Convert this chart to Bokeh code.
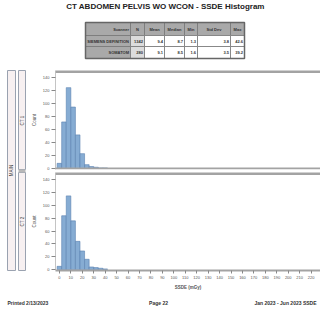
import math
from bokeh.plotting import figure
from bokeh.models import Range1d, Span, FixedTicker
from bokeh.layouts import column, row
from bokeh.embed import file_html
from bokeh.resources import INLINE
from bokeh.core.properties import value

# ---------------- data ----------------
title_text = "CT ABDOMEN PELVIS WO WCON - SSDE Histogram"
stat_headers = ["N", "Mean", "Median", "Min", "Std Dev", "Max"]
scanner_header = "Scanner"
scanners = ["SIEMENS DEFINITION", "SOMATOM"]
stats_row1 = ["1342", "9.4", "8.7", "1.3", "3.8", "42.6"]
stats_row2 = ["280", "9.1", "8.5", "1.6", "3.5", "39.2"]
site_label = "MAIN"
panel_labels = ["CT 1", "CT 2"]
bin_centers = [0, 4, 8, 12, 16, 20, 24, 28, 32, 36, 40]
counts_top = [8, 72, 125, 95, 52, 23, 6, 3, 2, 1, 1]
counts_bottom = [5, 84, 115, 76, 44, 29, 16, 4, 3, 2, 1]
x_ticks = [0, 10, 20, 30, 40, 50, 60, 70, 80, 90, 100, 110, 120, 130, 140,
           150, 160, 170, 180, 190, 200, 210, 220]
y_ticks = [0, 20, 40, 60, 80, 100, 120, 140]
x_label = "SSDE (mGy)"
y_label = "Count"
footer_left = "Printed 2/13/2023"
footer_center = "Page 22"
footer_right = "Jan 2023 - Jun 2023 SSDE"

FONT = "Liberation Sans"
BAR_FILL = "#86acd3"
BAR_LINE = "#5a82b0"
BAND = "#a3a3a3"


def canvas(w, h):
    p = figure(width=w, height=h, x_range=Range1d(0, w), y_range=Range1d(h, 0),
               output_backend="svg", toolbar_location=None, min_border=0,
               x_axis_location=None, y_axis_location=None)
    p.grid.visible = False
    p.outline_line_color = None
    p.background_fill_color = "white"
    p.border_fill_color = "white"
    return p


# ---------------- header: title + table ----------------
hdr = canvas(320, 68)
hdr.text(x=[165], y=[6], text=[title_text], text_font=value(FONT),
         text_font_size="8px", text_font_style="bold", text_align="center",
         text_baseline="middle", text_color="#222222")

col_w = [45, 14, 20, 20, 13, 33, 14]
row_h = [13, 11, 12]
x0, y0 = 85, 22
edges = [x0]
for w in col_w:
    edges.append(edges[-1] + w)
tops = [y0]
for h in row_h:
    tops.append(tops[-1] + h)

table_rows = [[scanner_header] + stat_headers,
              [scanners[0]] + stats_row1,
              [scanners[1]] + stats_row2]
L, R, T, B, F = [], [], [], [], []
tx, ty, tt, ta = [], [], [], []
for r, cells in enumerate(table_rows):
    for c, txt in enumerate(cells):
        L.append(edges[c]); R.append(edges[c + 1])
        T.append(tops[r]); B.append(tops[r + 1])
        F.append("#a9a9a9" if (r == 0 or c == 0) else ("#dcdcdc" if c == 1 else "white"))
        if r == 0 and c > 0:
            tx.append((edges[c] + edges[c + 1]) / 2); ta.append("center")
        else:
            tx.append(edges[c + 1] - 1.5); ta.append("right")
        ty.append((tops[r] + tops[r + 1]) / 2)
        tt.append(txt)
hdr.quad(left=L, right=R, top=T, bottom=B, fill_color=F, line_color="#777777",
         line_width=0.8)
hdr.quad(left=[edges[0]], right=[edges[-1]], top=[tops[0]], bottom=[tops[-1]],
         fill_color=None, line_color="#666666", line_width=1.5)
hdr.text(x=tx, y=ty, text=tt, text_align=ta, text_baseline="middle",
         text_font=value(FONT), text_font_size="4px", text_font_style="bold",
         text_color="#333333")

# ---------------- strips ----------------
strip = canvas(28, 224)
strip.quad(left=[7], right=[15], top=[2], bottom=[202], fill_color="#f7f0f1",
           line_color="#9aa2b0", line_width=1)
strip.quad(left=[18, 18], right=[25, 25], top=[2, 104], bottom=[101, 202],
           fill_color="#f7f0f1", line_color="#9aa2b0", line_width=1)
strip.quad(left=[18], right=[25], top=[101], bottom=[104], fill_color="#b8b8b8",
           line_color=None)
strip.text(x=[11], y=[102], text=[site_label], angle=math.pi / 2,
           text_align="center", text_baseline="middle", text_font=value(FONT),
           text_font_size="4.5px", text_color="#444444")
strip.text(x=[21.5, 21.5], y=[52, 153], text=panel_labels, angle=math.pi / 2,
           text_align="center", text_baseline="middle", text_font=value(FONT),
           text_font_size="4.5px", text_color="#444444")


# ---------------- histograms ----------------
def hist_fig(counts, height, b_top, b_bottom, with_x):
    p = figure(width=292, height=height, x_range=Range1d(-3.4, 228.2),
               y_range=Range1d(-1.5, 151.5), output_backend="svg",
               toolbar_location=None, min_border_left=21, min_border_right=0,
               min_border_top=b_top, min_border_bottom=b_bottom,
               x_axis_location="below" if with_x else None)
    p.grid.visible = False
    p.outline_line_color = None
    p.background_fill_color = "white"
    p.border_fill_color = "white"
    p.vbar(x=bin_centers, top=counts, width=4, bottom=0, fill_color=BAR_FILL,
           line_color=BAR_LINE, line_width=0.6)
    p.add_layout(Span(location=150, dimension="width", line_color=BAND,
                      line_width=3))
    ya = p.yaxis[0]
    ya.ticker = FixedTicker(ticks=y_ticks)
    ya.axis_label = y_label
    ya.axis_label_text_font = FONT
    ya.axis_label_text_font_size = "4.5px"
    ya.axis_label_text_font_style = "normal"
    ya.axis_label_text_color = "#555555"
    ya.axis_label_standoff = 3
    ya.major_label_text_font = FONT
    ya.major_label_text_font_size = "4px"
    ya.major_label_text_color = "#555555"
    ya.major_label_standoff = 2
    ya.major_tick_out = 4
    ya.major_tick_in = 0
    ya.major_tick_line_color = "#888888"
    ya.minor_tick_line_color = None
    ya.axis_line_color = "#c4c4c4"
    if with_x:
        xa = p.xaxis[0]
        xa.ticker = FixedTicker(ticks=x_ticks)
        xa.axis_label = x_label
        xa.axis_label_text_font = FONT
        xa.axis_label_text_font_size = "4.5px"
        xa.axis_label_text_font_style = "bold"
        xa.axis_label_text_color = "#555555"
        xa.axis_label_standoff = 3
        xa.major_label_text_font = FONT
        xa.major_label_text_font_size = "4px"
        xa.major_label_text_color = "#555555"
        xa.major_label_standoff = 2
        xa.major_tick_out = 3
        xa.major_tick_in = 0
        xa.major_tick_line_color = "#888888"
        xa.minor_tick_line_color = None
        xa.axis_line_color = BAND
        xa.axis_line_width = 2
    else:
        p.add_layout(Span(location=0, dimension="width", line_color=BAND,
                          line_width=2))
    return p


top_h = hist_fig(counts_top, 102, 2, 1, False)
bot_h = hist_fig(counts_bottom, 122, 2, 22, True)

# ---------------- footer ----------------
foot = canvas(320, 18)
foot.text(x=[7, 158, 316], y=[10, 10, 10],
          text=[footer_left, footer_center, footer_right],
          text_align=["left", "center", "right"], text_baseline="middle",
          text_font=value(FONT), text_font_size="5px", text_font_style="bold",
          text_color="#333333")

layout = column(hdr, row(strip, column(top_h, bot_h)), foot)
open("out.html", "w").write(file_html(layout, INLINE))
